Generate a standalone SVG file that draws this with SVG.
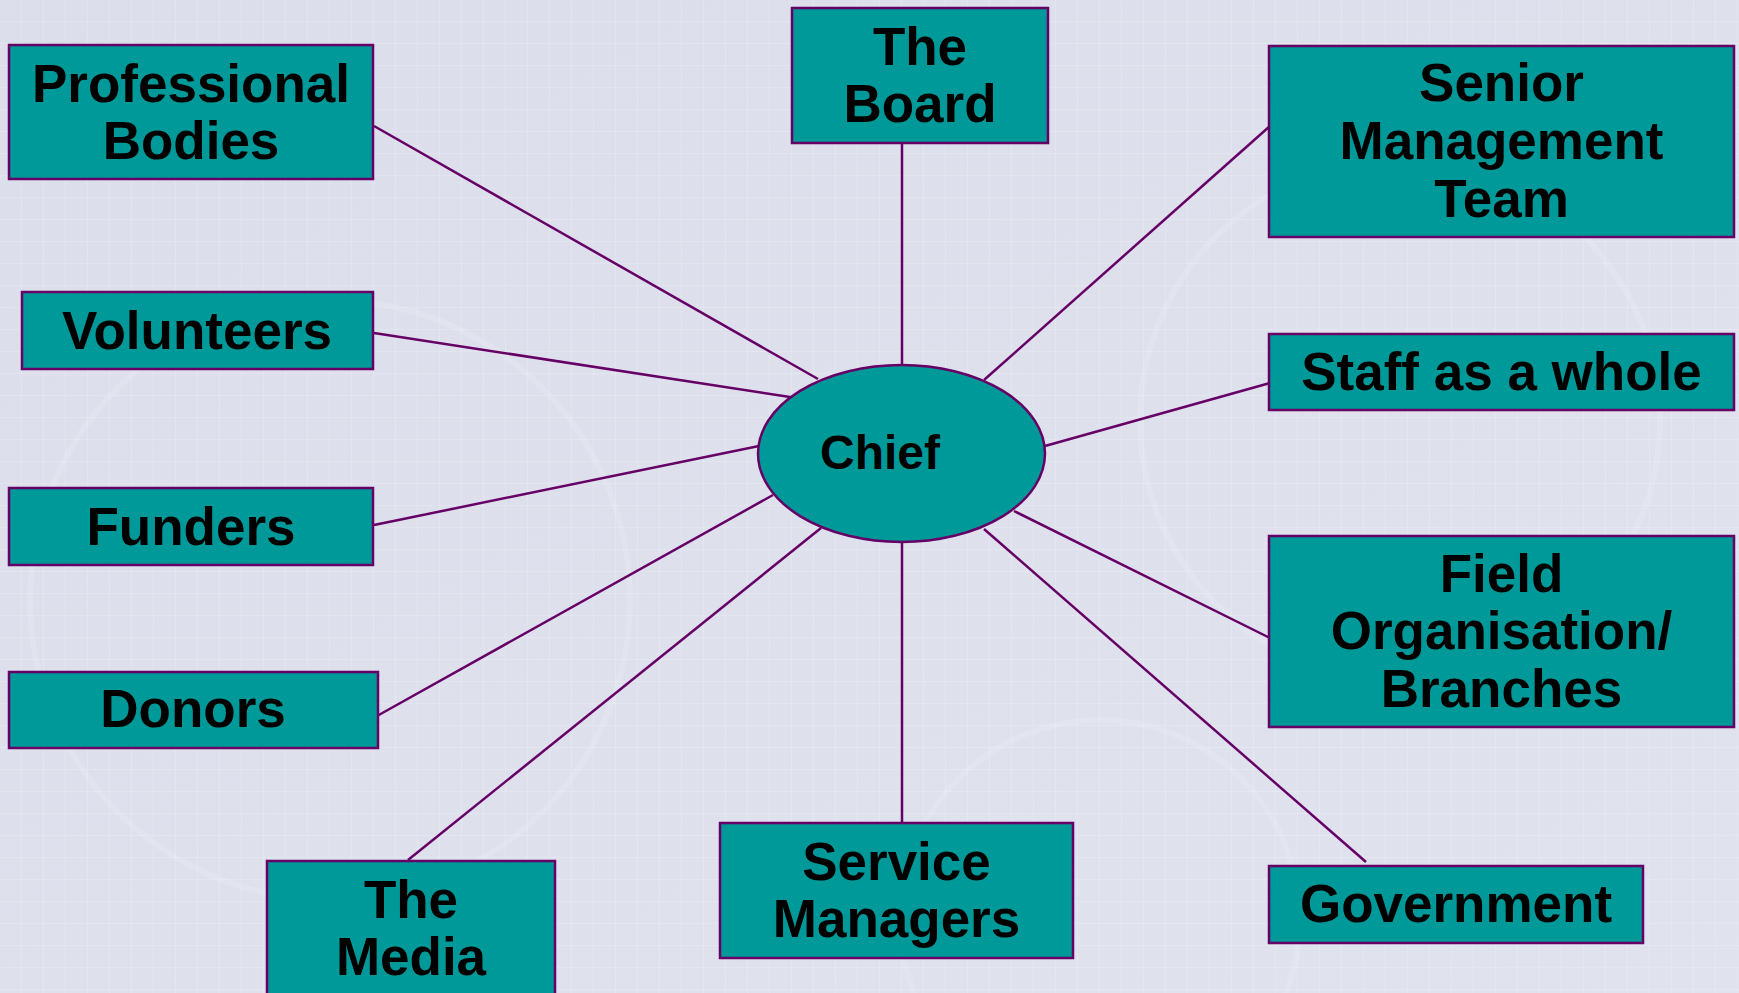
<svg xmlns="http://www.w3.org/2000/svg" width="1739" height="993" viewBox="0 0 1739 993">
<defs>
<style>
.box{fill:#009999;stroke:#660066;stroke-width:2.5}
.lbl{font-family:"Liberation Sans",Arial,sans-serif;font-weight:bold;font-size:53px;fill:#000;text-anchor:middle}
.conn line{stroke:#660066;stroke-width:2.5}
</style>
<linearGradient id="bg" x1="0" y1="0" x2="1" y2="1">
<stop offset="0" stop-color="#dcdfeb"/>
<stop offset="1" stop-color="#e0e2ee"/>
</linearGradient>
<pattern id="grid" width="22" height="22" patternUnits="userSpaceOnUse">
<path d="M22 0V22M0 22H22" fill="none" stroke="#ffffff" stroke-opacity="0.3" stroke-width="1"/>
</pattern>
</defs>
<rect width="1739" height="993" fill="url(#bg)"/>
<rect width="1739" height="993" fill="url(#grid)"/>
<g fill="none" stroke="#ffffff" stroke-opacity="0.12" stroke-width="6">
<circle cx="330" cy="600" r="300"/>
<circle cx="1400" cy="420" r="260"/>
<circle cx="1100" cy="920" r="200"/>
</g>
<g class="conn" id="connectors">
<line x1="374" y1="126" x2="818" y2="379"/>
<line x1="902" y1="143" x2="902" y2="366"/>
<line x1="1270" y1="126" x2="984" y2="380"/>
<line x1="374" y1="333" x2="790" y2="397"/>
<line x1="1270" y1="383" x2="1045" y2="446"/>
<line x1="374" y1="525" x2="759" y2="446"/>
<line x1="1270" y1="638" x2="1014" y2="511"/>
<line x1="377" y1="716" x2="773" y2="495"/>
<line x1="408" y1="860" x2="821" y2="528"/>
<line x1="902" y1="542" x2="902" y2="823"/>
<line x1="1366" y1="862" x2="984" y2="529"/>
</g>
<g id="chief">
<ellipse cx="901.5" cy="453.5" rx="143.5" ry="88.5" class="box"/>
<text x="880" y="469" class="lbl" style="font-size:48px">Chief</text>
</g>
<g id="professional-bodies">
<rect x="9" y="45" width="364" height="134" class="box"/>
<text x="191" y="102" class="lbl">Professional</text>
<text x="191" y="159" class="lbl">Bodies</text>
</g>
<g id="the-board">
<rect x="792" y="8" width="256" height="135" class="box"/>
<text x="920" y="65" class="lbl">The</text>
<text x="920" y="122" class="lbl">Board</text>
</g>
<g id="senior-management-team">
<rect x="1269" y="46" width="465" height="191" class="box"/>
<text x="1501.5" y="101" class="lbl">Senior</text>
<text x="1501.5" y="159" class="lbl">Management</text>
<text x="1501.5" y="217" class="lbl">Team</text>
</g>
<g id="volunteers">
<rect x="22" y="292" width="351" height="77" class="box"/>
<text x="197" y="349" class="lbl">Volunteers</text>
</g>
<g id="staff">
<rect x="1269" y="334" width="465" height="76" class="box"/>
<text x="1501.5" y="390" class="lbl">Staff as a whole</text>
</g>
<g id="funders">
<rect x="9" y="488" width="364" height="77" class="box"/>
<text x="191" y="545" class="lbl">Funders</text>
</g>
<g id="field-organisation">
<rect x="1269" y="536" width="465" height="191" class="box"/>
<text x="1501.5" y="592" class="lbl">Field</text>
<text x="1501.5" y="649" class="lbl">Organisation/</text>
<text x="1501.5" y="707" class="lbl">Branches</text>
</g>
<g id="donors">
<rect x="9" y="672" width="369" height="76" class="box"/>
<text x="193" y="727" class="lbl">Donors</text>
</g>
<g id="the-media">
<rect x="267" y="861" width="288" height="140" class="box"/>
<text x="411" y="918" class="lbl">The</text>
<text x="411" y="975" class="lbl">Media</text>
</g>
<g id="service-managers">
<rect x="720" y="823" width="353" height="135" class="box"/>
<text x="896.5" y="880" class="lbl">Service</text>
<text x="896.5" y="937" class="lbl">Managers</text>
</g>
<g id="government">
<rect x="1269" y="866" width="374" height="77" class="box"/>
<text x="1456" y="922" class="lbl">Government</text>
</g>
</svg>
